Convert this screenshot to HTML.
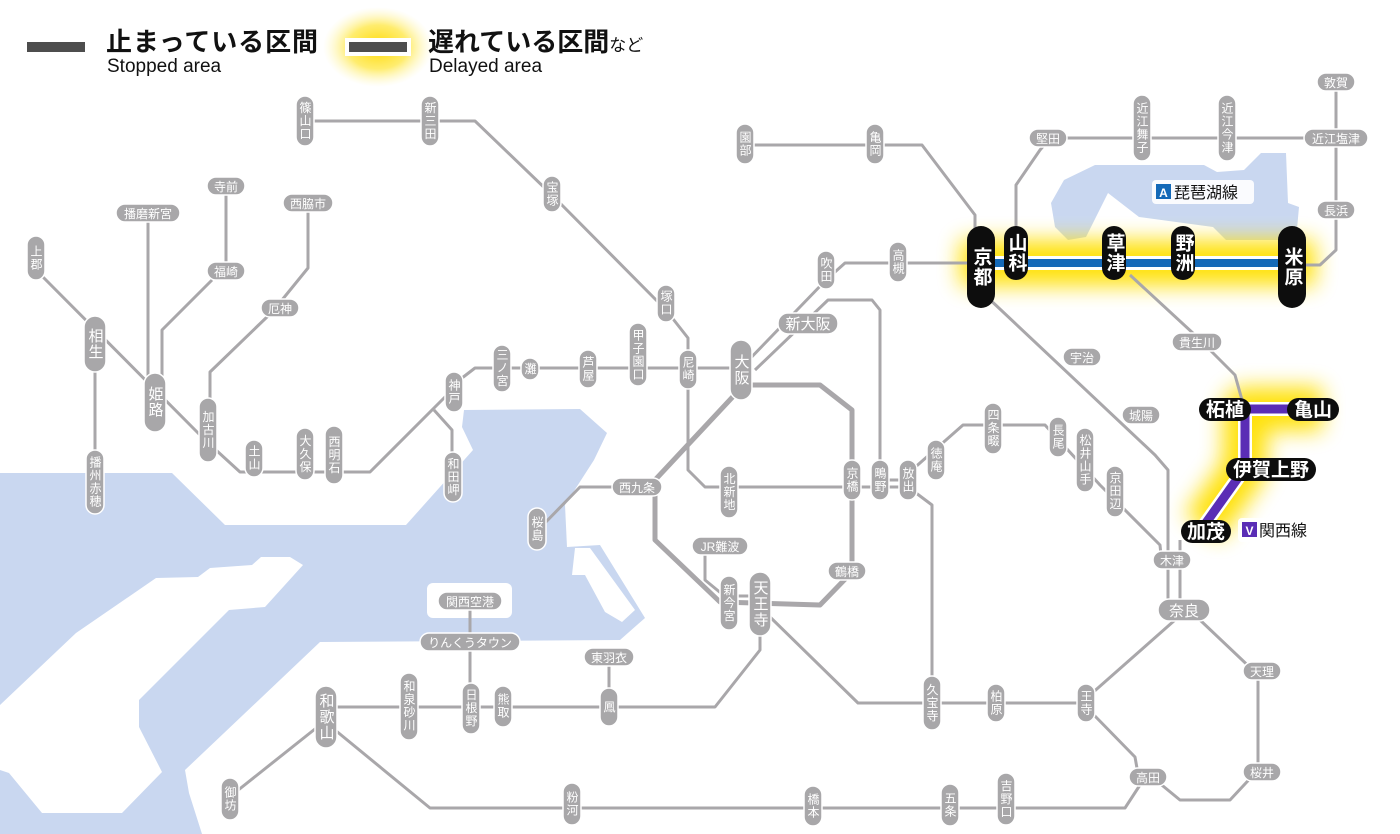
<!DOCTYPE html>
<html><head><meta charset="utf-8"><style>
body{margin:0;background:#fff}
svg{display:block}
text{font-family:"Liberation Sans","Noto Sans CJK JP",sans-serif}
.l{fill:none;stroke:#a9a7aa;stroke-width:3;stroke-linejoin:round}
.lt{fill:none;stroke:#a9a7aa;stroke-width:5;stroke-linejoin:round}
.g rect{fill:#a8a7a9;stroke:#fff;stroke-width:1.5}
.g text{fill:#fff;font-size:12px}
.v{writing-mode:vertical-rl;text-anchor:middle;letter-spacing:1px}
.h{text-anchor:middle}
.b rect{fill:#0d0d0d}
.b text{fill:#fff;font-size:19px;font-weight:bold}
.big text{font-size:15px}
</style></head><body>
<svg width="1400" height="834" viewBox="0 0 1400 834" xmlns="http://www.w3.org/2000/svg">
<defs>
<filter id="blur" x="-30%" y="-80%" width="160%" height="260%"><feGaussianBlur stdDeviation="11"/></filter>
<radialGradient id="rg"><stop offset="0" stop-color="#ffd800"/><stop offset="0.55" stop-color="#ffe84a" stop-opacity="0.8"/><stop offset="1" stop-color="#fff6b0" stop-opacity="0"/></radialGradient>
</defs>
<!-- sea -->
<polygon fill="#c9d7f0" points="0,473 172,473 225,525 406,525 473,450 462,427 464,410 580,409 607,433 594,460 565,505 567,547 600,545 645,618 620,640 320,642 185,770 189,793 202,834 0,834"/>
<polygon fill="#fff" points="303,565 290,557 261,557 252,565 210,568 198,577 156,578 76,633 0,705 0,770 9,773 42,813 122,813 162,772 139,727 139,700 229,610 265,607"/>
<rect x="427" y="583" width="85" height="35" rx="6" fill="#fff"/>
<polygon fill="#fff" points="575,548 590,548 635,610 622,622 605,612 585,575 572,575"/>
<!-- lake -->
<polygon fill="#c9d7f0" points="1051,203 1064,180 1095,165 1204,165 1217,172 1244,170 1261,153 1286,153 1288,203 1299,207 1296,240 1226,240 1213,227 1139,217 1108,193 1086,237 1068,240 1055,227"/>

<!-- glow -->
<g filter="url(#blur)" fill="none" stroke="#ffe000" stroke-linejoin="round" opacity="0.95">
<line x1="960" y1="263" x2="1315" y2="263" stroke-width="46"/>
<polyline points="1322,409 1245,409 1245,468 1203,527" stroke-width="44"/>
</g>

<!-- gray lines -->
<polyline class="l" points="36,270 205,440 240,472 370,472 450,392 462,378 475,368 741,368"/>
<polyline class="l" points="434,410 452,430 452,460"/>
<line class="l" x1="95" y1="360" x2="95" y2="460"/>
<line class="l" x1="148" y1="215" x2="148" y2="380"/>
<line class="l" x1="226" y1="190" x2="226" y2="268"/>
<polyline class="l" points="212,280 162,330 162,380"/>
<polyline class="l" points="308,208 308,268 282,300"/>
<polyline class="l" points="268,316 210,372 210,405"/>
<polyline class="l" points="305,121 475,121 552,195 666,310 688,338 688,470 705,487 908,487"/>
<polyline class="l" points="741,368 826,280 845,263 981,263"/>
<polyline class="l" points="755,370 828,300 872,300 880,310 880,470"/>
<polyline class="lt" points="741,388 655,480 655,540 720,602 820,605 852,572 852,410 820,385 745,385"/>
<polyline class="l" points="617,487 580,487 540,528"/>
<polyline class="l" points="705,552 705,580 722,594"/>
<polyline class="l" points="735,596 760,596"/>
<polyline class="l" points="760,630 760,650 715,707 335,707"/>
<polyline class="l" points="768,615 858,703 1090,703"/>
<polyline class="l" points="880,480 908,480"/>
<polyline class="l" points="912,490 932,505 932,690"/>
<polyline class="l" points="912,470 963,425 1045,425 1100,485 1160,545 1162,565"/>
<polyline class="l" points="985,295 1155,455 1168,470 1168,600"/>
<line class="l" x1="1180" y1="540" x2="1180" y2="600"/>
<polyline class="l" points="1130,275 1195,335 1235,375 1242,400"/>
<polyline class="l" points="1175,620 1090,695"/>
<polyline class="l" points="1200,620 1258,675 1258,770 1230,800 1180,800 1152,777"/>
<polyline class="l" points="1092,713 1135,757 1140,785 1125,808 430,808 335,730"/>
<polyline class="l" points="320,725 232,795"/>
<line class="l" x1="470" y1="606" x2="470" y2="690"/>
<line class="l" x1="609" y1="662" x2="609" y2="695"/>
<polyline class="l" points="745,145 922,145 975,215 975,232"/>
<polyline class="l" points="1016,232 1016,185 1040,150 1050,138 1336,138"/>
<polyline class="l" points="1336,82 1336,250 1320,265 1300,265"/>

<!-- colored lines -->
<line x1="981" y1="263" x2="1292" y2="263" stroke="#fff" stroke-width="14"/>
<line x1="981" y1="263" x2="1292" y2="263" stroke="#1469b8" stroke-width="8"/>
<polyline points="1320,409 1245,409 1245,468 1203,527" fill="none" stroke="#fff" stroke-width="14" stroke-linejoin="miter"/>
<polyline points="1320,409 1245,409 1245,468 1203,527" fill="none" stroke="#5a2db5" stroke-width="9" stroke-linejoin="miter"/>

<!-- gray vertical labels -->
<g class="g">
<rect x="27" y="236" width="18" height="44" rx="9"/><text class="v" x="36" y="258">上郡</text>
<rect x="296" y="96" width="18" height="50" rx="9"/><text class="v" x="305" y="121">篠山口</text>
<rect x="421" y="96" width="18" height="50" rx="9"/><text class="v" x="430" y="121">新三田</text>
<rect x="543" y="176" width="18" height="36" rx="9"/><text class="v" x="552" y="194">宝塚</text>
<rect x="657" y="285" width="18" height="37" rx="9"/><text class="v" x="666" y="303">塚口</text>
<rect x="629" y="323" width="18" height="63" rx="9"/><text class="v" x="638" y="355">甲子園口</text>
<rect x="679" y="350" width="18" height="39" rx="9"/><text class="v" x="688" y="369">尼崎</text>
<rect x="493" y="345" width="18" height="47" rx="9"/><text class="v" x="502" y="368">三ノ宮</text>
<rect x="521" y="358" width="18" height="22" rx="9"/><text class="v" x="530" y="369">灘</text>
<rect x="579" y="350" width="18" height="38" rx="9"/><text class="v" x="588" y="369">芦屋</text>
<rect x="445" y="372" width="18" height="40" rx="9"/><text class="v" x="454" y="392">神戸</text>
<rect x="444" y="452" width="18" height="50" rx="9"/><text class="v" x="453" y="477">和田岬</text>
<rect x="199" y="398" width="18" height="64" rx="9"/><text class="v" x="208" y="430">加古川</text>
<rect x="245" y="440" width="18" height="37" rx="9"/><text class="v" x="254" y="458">土山</text>
<rect x="296" y="428" width="18" height="52" rx="9"/><text class="v" x="305" y="454">大久保</text>
<rect x="325" y="426" width="18" height="58" rx="9"/><text class="v" x="334" y="455">西明石</text>
<rect x="86" y="450" width="18" height="64" rx="9"/><text class="v" x="95" y="482">播州赤穂</text>
<rect x="720" y="466" width="18" height="52" rx="9"/><text class="v" x="729" y="492">北新地</text>
<rect x="843" y="460" width="18" height="40" rx="9"/><text class="v" x="852" y="480">京橋</text>
<rect x="871" y="460" width="18" height="40" rx="9"/><text class="v" x="880" y="480">鴫野</text>
<rect x="899" y="460" width="18" height="40" rx="9"/><text class="v" x="908" y="480">放出</text>
<rect x="927" y="440" width="18" height="40" rx="9"/><text class="v" x="936" y="460">徳庵</text>
<rect x="984" y="403" width="18" height="51" rx="9"/><text class="v" x="993" y="428">四条畷</text>
<rect x="1049" y="417" width="18" height="40" rx="9"/><text class="v" x="1058" y="437">長尾</text>
<rect x="1076" y="428" width="18" height="64" rx="9"/><text class="v" x="1085" y="460">松井山手</text>
<rect x="1106" y="466" width="18" height="51" rx="9"/><text class="v" x="1115" y="491">京田辺</text>
<rect x="817" y="251" width="18" height="38" rx="9"/><text class="v" x="826" y="270">吹田</text>
<rect x="889" y="242" width="18" height="40" rx="9"/><text class="v" x="898" y="262">高槻</text>
<rect x="736" y="124" width="18" height="40" rx="9"/><text class="v" x="745" y="144">園部</text>
<rect x="866" y="124" width="18" height="40" rx="9"/><text class="v" x="875" y="144">亀岡</text>
<rect x="1133" y="95" width="18" height="66" rx="9"/><text class="v" x="1142" y="128">近江舞子</text>
<rect x="1218" y="95" width="18" height="66" rx="9"/><text class="v" x="1227" y="128">近江今津</text>
<rect x="528" y="508" width="18" height="42" rx="9"/><text class="v" x="537" y="529">桜島</text>
<rect x="720" y="576" width="18" height="54" rx="9"/><text class="v" x="729" y="603">新今宮</text>
<rect x="400" y="673" width="18" height="67" rx="9"/><text class="v" x="409" y="706">和泉砂川</text>
<rect x="462" y="683" width="18" height="51" rx="9"/><text class="v" x="471" y="708">日根野</text>
<rect x="494" y="686" width="18" height="41" rx="9"/><text class="v" x="503" y="706">熊取</text>
<rect x="600" y="688" width="18" height="38" rx="9"/><text class="v" x="609" y="707">鳳</text>
<rect x="221" y="778" width="18" height="42" rx="9"/><text class="v" x="230" y="799">御坊</text>
<rect x="563" y="783" width="18" height="42" rx="9"/><text class="v" x="572" y="804">粉河</text>
<rect x="804" y="786" width="18" height="40" rx="9"/><text class="v" x="813" y="806">橋本</text>
<rect x="941" y="784" width="18" height="42" rx="9"/><text class="v" x="950" y="805">五条</text>
<rect x="997" y="773" width="18" height="52" rx="9"/><text class="v" x="1006" y="799">吉野口</text>
<rect x="923" y="676" width="18" height="54" rx="9"/><text class="v" x="932" y="703">久宝寺</text>
<rect x="987" y="684" width="18" height="38" rx="9"/><text class="v" x="996" y="703">柏原</text>
<rect x="1077" y="684" width="18" height="38" rx="9"/><text class="v" x="1086" y="703">王寺</text>
</g>
<g class="g big">
<rect x="84" y="316" width="22" height="56" rx="11"/><text class="v" x="95" y="344">相生</text>
<rect x="144" y="373" width="22" height="59" rx="11"/><text class="v" x="155" y="402">姫路</text>
<rect x="730" y="340" width="22" height="60" rx="11"/><text class="v" x="741" y="370">大阪</text>
<rect x="749" y="572" width="22" height="64" rx="11"/><text class="v" x="760" y="604">天王寺</text>
<rect x="315" y="686" width="22" height="62" rx="11"/><text class="v" x="326" y="717">和歌山</text>
</g>
<g class="g">
<rect x="116" y="204" width="64" height="18" rx="9"/><text class="h" x="148" y="218">播磨新宮</text>
<rect x="207" y="177" width="38" height="18" rx="9"/><text class="h" x="226" y="191">寺前</text>
<rect x="283" y="194" width="50" height="18" rx="9"/><text class="h" x="308" y="208">西脇市</text>
<rect x="207" y="262" width="38" height="18" rx="9"/><text class="h" x="226" y="276">福崎</text>
<rect x="261" y="299" width="38" height="18" rx="9"/><text class="h" x="280" y="313">厄神</text>
<rect x="612" y="478" width="50" height="18" rx="9"/><text class="h" x="637" y="492">西九条</text>
<rect x="692" y="537" width="56" height="18" rx="9"/><text class="h" x="720" y="551">JR難波</text>
<rect x="828" y="562" width="38" height="18" rx="9"/><text class="h" x="847" y="576">鶴橋</text>
<rect x="438" y="592" width="64" height="18" rx="9"/><text class="h" x="470" y="606">関西空港</text>
<rect x="420" y="633" width="100" height="18" rx="9"/><text class="h" x="470" y="647">りんくうタウン</text>
<rect x="584" y="648" width="50" height="18" rx="9"/><text class="h" x="609" y="662">東羽衣</text>
<rect x="1063" y="348" width="38" height="18" rx="9"/><text class="h" x="1082" y="362">宇治</text>
<rect x="1122" y="406" width="38" height="18" rx="9"/><text class="h" x="1141" y="420">城陽</text>
<rect x="1172" y="333" width="50" height="18" rx="9"/><text class="h" x="1197" y="347">貴生川</text>
<rect x="1153" y="551" width="38" height="18" rx="9"/><text class="h" x="1172" y="565">木津</text>
<rect x="1243" y="662" width="38" height="18" rx="9"/><text class="h" x="1262" y="676">天理</text>
<rect x="1243" y="763" width="38" height="18" rx="9"/><text class="h" x="1262" y="777">桜井</text>
<rect x="1129" y="768" width="38" height="18" rx="9"/><text class="h" x="1148" y="782">高田</text>
<rect x="1029" y="129" width="38" height="18" rx="9"/><text class="h" x="1048" y="143">堅田</text>
<rect x="1304" y="129" width="64" height="18" rx="9"/><text class="h" x="1336" y="143">近江塩津</text>
<rect x="1317" y="73" width="38" height="18" rx="9"/><text class="h" x="1336" y="87">敦賀</text>
<rect x="1317" y="201" width="38" height="18" rx="9"/><text class="h" x="1336" y="215">長浜</text>
</g>
<g class="g big">
<rect x="778" y="313" width="60" height="21" rx="10"/><text class="h" x="808" y="329">新大阪</text>
<rect x="1158" y="599" width="52" height="22" rx="11"/><text class="h" x="1184" y="616">奈良</text>
</g>
<g class="b">
<rect x="967" y="226" width="28" height="82" rx="14"/><text class="v" x="981" y="267">京都</text>
<rect x="1004" y="226" width="24" height="54" rx="12"/><text class="v" x="1016" y="253">山科</text>
<rect x="1102" y="226" width="24" height="54" rx="12"/><text class="v" x="1114" y="253">草津</text>
<rect x="1171" y="226" width="24" height="54" rx="12"/><text class="v" x="1183" y="253">野洲</text>
<rect x="1278" y="226" width="28" height="82" rx="14"/><text class="v" x="1292" y="267">米原</text>
<rect x="1199" y="398" width="52" height="23" rx="11.5"/><text class="h" x="1225" y="416">柘植</text>
<rect x="1287" y="398" width="52" height="23" rx="11.5"/><text class="h" x="1313" y="416">亀山</text>
<rect x="1226" y="458" width="90" height="23" rx="11.5"/><text class="h" x="1271" y="476">伊賀上野</text>
<rect x="1181" y="520" width="50" height="23" rx="11.5"/><text class="h" x="1206" y="538">加茂</text>
</g>
<rect x="1152" y="180" width="102" height="24" rx="4" fill="#fff" opacity="0.9"/>
<rect x="1156" y="184" width="15" height="15" fill="#1469b8"/>
<text x="1163.5" y="197" fill="#fff" font-size="12" font-weight="bold" text-anchor="middle">A</text>
<text x="1174" y="198" font-size="16" fill="#111">琵琶湖線</text>
<rect x="1238" y="518" width="78" height="24" rx="4" fill="#fff" opacity="0.9"/>
<rect x="1242" y="522" width="15" height="15" fill="#5a2db5"/>
<text x="1249.5" y="535" fill="#fff" font-size="12" font-weight="bold" text-anchor="middle">V</text>
<text x="1259" y="536" font-size="16" fill="#111">関西線</text>

<!-- legend -->
<rect x="27" y="42" width="58" height="10" fill="#4d4d4d"/>
<text x="106" y="51" font-size="26" font-weight="bold" fill="#111" textLength="212">止まっている区間</text>
<text x="107" y="72" font-size="19" fill="#111">Stopped area</text>
<ellipse cx="378" cy="47" rx="55" ry="40" fill="url(#rg)"/>
<rect x="345" y="38" width="66" height="18" fill="#fff"/>
<rect x="349" y="42" width="58" height="10" fill="#4d4d4d"/>
<text x="428" y="51" font-size="26" font-weight="bold" fill="#111">遅れている区間<tspan font-size="17" font-weight="normal">など</tspan></text>
<text x="429" y="72" font-size="19" fill="#111">Delayed area</text>
</svg>
</body></html>
